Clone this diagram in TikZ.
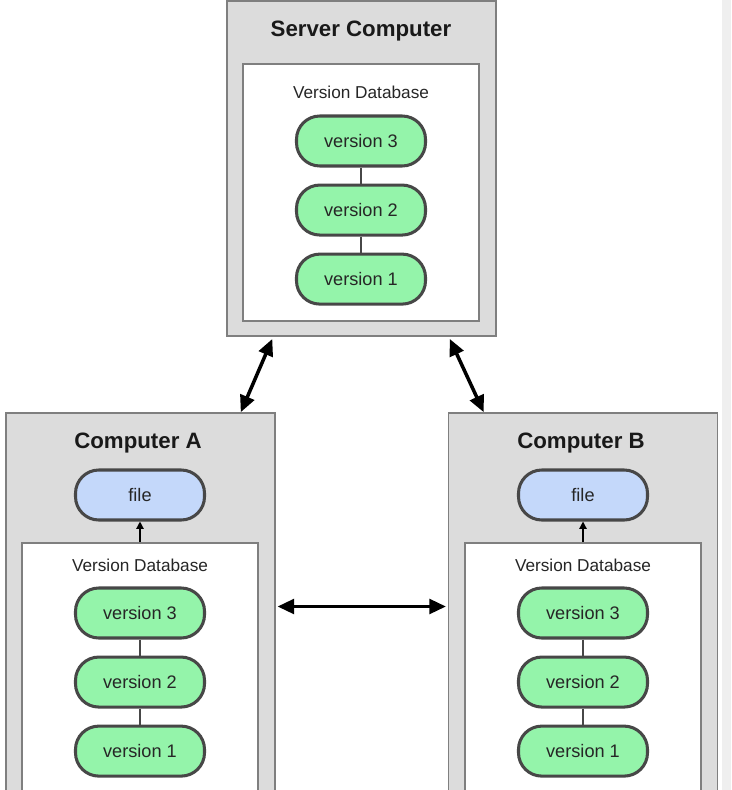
\documentclass[tikz,border=0pt]{standalone}
\usepackage{fontspec}
\setmainfont{Liberation Sans}
\usetikzlibrary{
  arrows.meta,
  positioning
}
\usepackage{xcolor}
\definecolor{boxgray}{HTML}{DCDCDC}
\definecolor{edgegray}{HTML}{7F7F7F}
\definecolor{versiongreen}{HTML}{94F4AA}
\definecolor{fileblue}{HTML}{C4D8FA}
\definecolor{pilledge}{HTML}{474747}
\definecolor{stripgray}{HTML}{EFEFEF}
\tikzset{
  machine/.style={
    rectangle, draw=edgegray, fill=boxgray, line width=1.3pt,
    minimum width=8.07cm, minimum height=11.61cm
  },
  database/.style={
    rectangle, draw=edgegray, fill=white, line width=1.3pt,
    minimum width=7.08cm, minimum height=7.71cm
  },
  pill/.style={
    rectangle, draw=pilledge, fill=#1, rounded corners=0.7cm,
    minimum width=3.87cm, minimum height=1.5cm,
    font=\fontsize{15.5}{18}\selectfont, text=black!85, line width=2.6pt
  },
  pill/.default=versiongreen,
  title/.style={font=\fontsize{19}{22}\selectfont\bfseries, text=black!90},
  dblabel/.style={font=\fontsize{14.7}{17}\selectfont, text=black!85},
  link/.style={draw=pilledge, line width=1.2pt},
  sync/.style={{Triangle[length=5mm,width=4.4mm]}-{Triangle[length=5mm,width=4.4mm]}, line width=3pt},
  fetch/.style={-{Triangle[length=2.2mm,width=2.2mm]}, line width=1.1pt},
}

\begin{document}
\begin{tikzpicture}[
  x=0.03cm, y=-0.03cm,
  node distance=0.48cm,
]
\useasboundingbox (0,0) rectangle (731,790);
\clip (0,0) rectangle (731,790);
\fill[stripgray] (722,0) rectangle (731,790);

% Server
\node[machine, minimum height=10.05cm] (server) at (361.5,168.5) {};
\node[title] (servertitle) at (361,31) {Server Computer};
\node[database] (serverdb) at (361,192.5) {};
\node[dblabel] (serverlabel) at (361,92) {Version Database};
\node[pill] (sv3) at (361,141) {version 3};
\node[pill, below=of sv3] (sv2) {version 2};
\node[pill, below=of sv2] (sv1) {version 1};
\draw[link] (sv3) -- (sv2);
\draw[link] (sv2) -- (sv1);

% Computer A
\node[machine] (compa) at (140.5,606.5) {};
\node[title] (atitle) at (138,443) {Computer A};
\node[pill=fileblue] (afile) at (140,495) {file};
\node[database] (adb) at (140,671.5) {};
\node[dblabel] (alabel) at (140,565) {Version Database};
\node[pill] (av3) at (140,613) {version 3};
\node[pill, below=of av3] (av2) {version 2};
\node[pill, below=of av2] (av1) {version 1};
\draw[link] (av3) -- (av2);
\draw[link] (av2) -- (av1);
\draw[fetch] (adb) -- (afile);

% Computer B
\node[machine] (compb) at (583,606.5) {};
\node[title] (btitle) at (581,443) {Computer B};
\node[pill=fileblue] (bfile) at (583,495) {file};
\node[database] (bdb) at (583,671.5) {};
\node[dblabel] (blabel) at (583,565) {Version Database};
\node[pill] (bv3) at (583,613) {version 3};
\node[pill, below=of bv3] (bv2) {version 2};
\node[pill, below=of bv2] (bv1) {version 1};
\draw[link] (bv3) -- (bv2);
\draw[link] (bv2) -- (bv1);
\draw[fetch] (bdb) -- (bfile);

% Sync
\draw[sync, shorten <=2pt] ([xshift=1.41cm]server.south west) -- ([xshift=-1.05cm]compa.north east);
\draw[sync, shorten <=2pt] ([xshift=-1.44cm]server.south east) -- ([xshift=1.08cm]compb.north west);
\draw[sync, shorten <=1.5pt, shorten >=1.5pt] (compa) -- (compb);

\end{tikzpicture}
\end{document}
